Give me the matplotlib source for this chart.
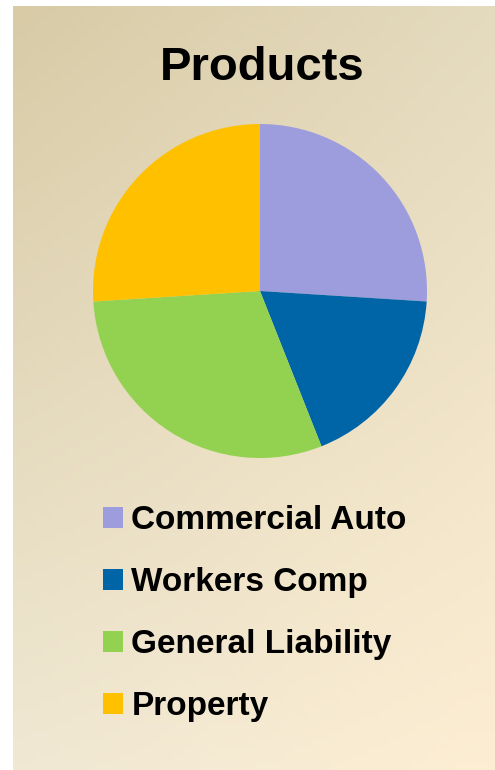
import numpy as np
import matplotlib.pyplot as plt
from matplotlib.patches import Patch

labels = ["Commercial Auto", "Workers Comp", "General Liability", "Property"]
shares = [26, 18, 30, 26]
colors = ["#9D9CDD", "#0065A6", "#93D150", "#FFC000"]

W, H = 495, 770
fig = plt.figure(figsize=(W / 100, H / 100), dpi=100)
fig.patch.set_facecolor("white")

# beige gradient background
bg = fig.add_axes([13 / W, 0, 1 - 13 / W, 1 - 6 / H])
corners = np.array([
    [[0xD8, 0xCB, 0xA6], [0xE4, 0xDA, 0xBE]],
    [[0xF0, 0xE8, 0xD3], [0xFD, 0xEE, 0xD3]],
]) / 255.0
n = 100
t = np.linspace(0, 1, n)
u, v = np.meshgrid(t, t)
img = (corners[0, 0] * ((1 - u) * (1 - v))[..., None]
       + corners[0, 1] * (u * (1 - v))[..., None]
       + corners[1, 0] * ((1 - u) * v)[..., None]
       + corners[1, 1] * (u * v)[..., None])
bg.imshow(img, aspect="auto", extent=(0, 1, 0, 1), origin="upper")
bg.axis("off")

# pie
cx, cy, r = 260, 291, 167
ax = fig.add_axes([(cx - r) / W, (H - cy - r) / H, 2 * r / W, 2 * r / H])
ax.pie(shares, colors=colors, startangle=90, counterclock=False,
       wedgeprops=dict(linewidth=0))
ax.set_xlim(-1, 1)
ax.set_ylim(-1, 1)
ax.set_aspect("auto")
ax.axis("off")

fig.text(262.5 / W, 1 - 80 / H, "Products", ha="center", va="baseline",
         fontsize=34, fontweight="bold", family="Liberation Sans")

handles = [Patch(facecolor=c, edgecolor="none") for c in colors]
fig.legend(handles, labels, loc="upper left",
           bbox_to_anchor=(103 / W, 1 - 505 / H),
           frameon=False, borderaxespad=0, borderpad=0,
           prop=dict(family="Liberation Sans", weight="bold", size=24),
           handlelength=0.6, handleheight=0.6, handletextpad=0.25,
           labelspacing=0.93)

fig.savefig("out.png", dpi=100)
